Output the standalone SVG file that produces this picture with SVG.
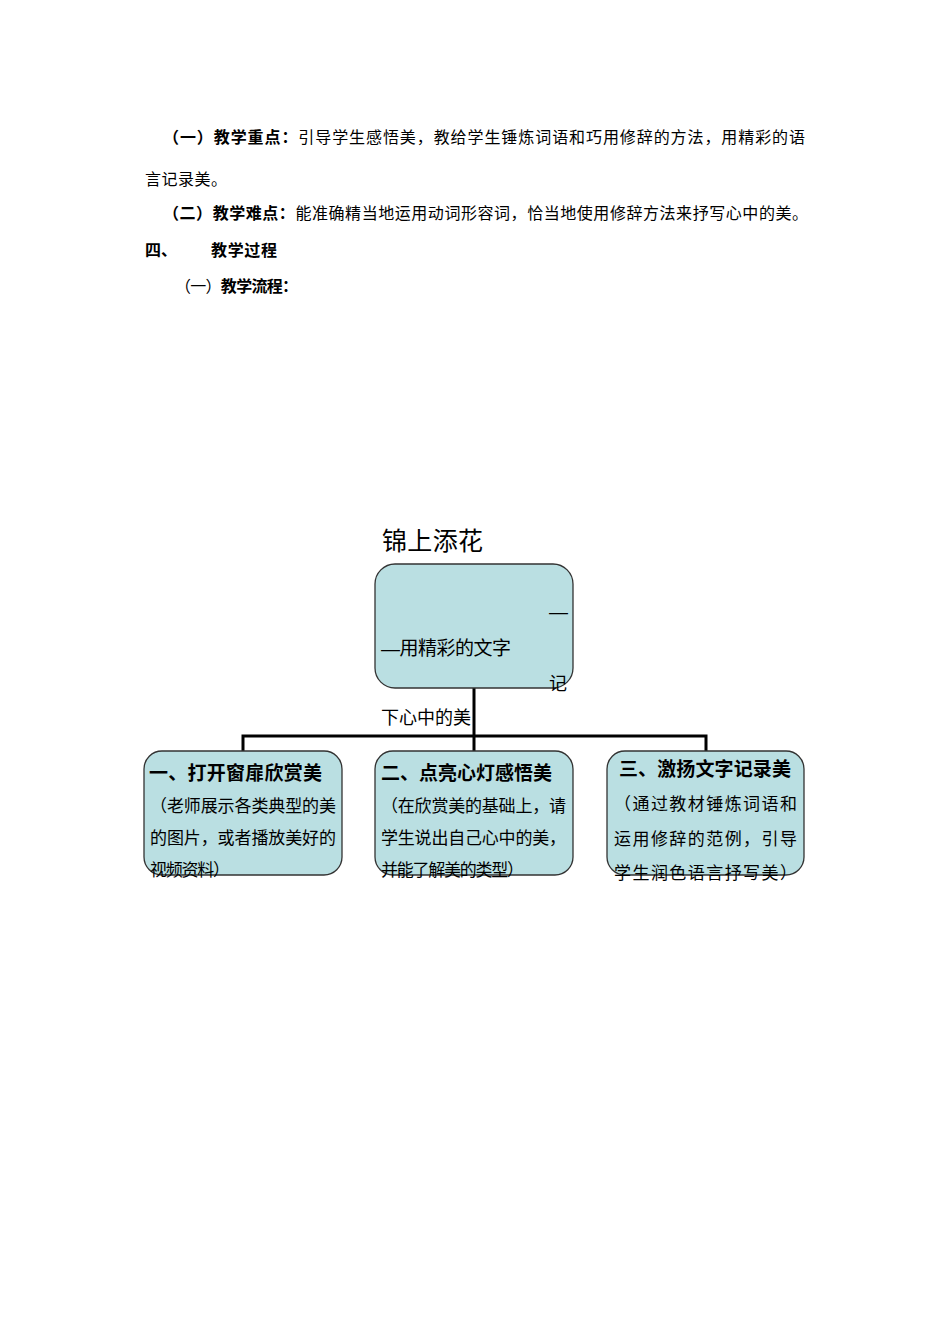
<svg xmlns="http://www.w3.org/2000/svg" width="950" height="1344" viewBox="0 0 950 1344">
<style>
.p{font-family:"Liberation Serif","Noto Sans CJK SC",serif;font-size:16px;fill:#000}
.b{font-weight:bold}
.t{font-family:"Liberation Sans","Noto Sans CJK SC",sans-serif;fill:#000}
.box{fill:#badfe2;stroke:#333;stroke-width:1.3}
.tt{font-family:"Liberation Sans","Noto Sans CJK SC",sans-serif;font-size:19px;font-weight:bold;fill:#000}
.bd{font-family:"Liberation Serif","Noto Sans CJK SC",serif;font-size:17px;fill:#000}
.c{fill:none;stroke:#000;stroke-width:3}
</style>
<rect width="950" height="1344" fill="#fff"/>
<g id="text">
<text class="p" x="163" y="143" textLength="642" lengthAdjust="spacing"><tspan class="b">（一）教学重点：</tspan>引导学生感悟美，教给学生锤炼词语和巧用修辞的方法，用精彩的语</text>
<text class="p" x="145" y="185" textLength="82" lengthAdjust="spacing">言记录美。</text>
<text class="p" x="163" y="219" textLength="645" lengthAdjust="spacing"><tspan class="b">（二）教学难点：</tspan>能准确精当地运用动词形容词，恰当地使用修辞方法来抒写心中的美。</text>
<text class="p b" x="145" y="256">四、</text>
<text class="p b" x="211" y="256" textLength="66" lengthAdjust="spacing">教学过程</text>
<text class="p" x="175" y="292" textLength="123" lengthAdjust="spacing">（一）<tspan class="b">教学流程：</tspan></text>
</g>
<g id="title"><text class="t" x="382" y="550" font-size="25" textLength="101" lengthAdjust="spacing">锦上添花</text></g>
<g id="connectors">
<path class="c" d="M474 688V751M243 751V736H706V751"/>
</g>
<g id="root">
<rect class="box" x="375" y="564" width="198" height="124" rx="20"/>
<text class="t" x="549" y="618" font-size="19">—</text>
<text class="t" x="381" y="655" font-size="19" textLength="130" lengthAdjust="spacing">—用精彩的文字</text>
<text class="t" x="549" y="690" font-size="18">记</text>
<text class="t" x="381" y="724" font-size="18" textLength="90" lengthAdjust="spacing">下心中的美</text>
</g>
<g id="node1">
<rect class="box" x="144" y="751" width="198" height="124" rx="18"/>
<text class="tt" x="149" y="780" textLength="173" lengthAdjust="spacing">一、打开窗扉欣赏美</text>
<text class="bd" x="150" y="812" textLength="186" lengthAdjust="spacing">（老师展示各类典型的美</text>
<text class="bd" x="150" y="844" textLength="186" lengthAdjust="spacing">的图片，或者播放美好的</text>
<text class="bd" x="150" y="876" textLength="80" lengthAdjust="spacing">视频资料）</text>
</g>
<g id="node2">
<rect class="box" x="375" y="751" width="198" height="124" rx="18"/>
<text class="tt" x="381" y="780" textLength="171" lengthAdjust="spacing">二、点亮心灯感悟美</text>
<text class="bd" x="381" y="812" textLength="185" lengthAdjust="spacing">（在欣赏美的基础上，请</text>
<text class="bd" x="381" y="844" textLength="185" lengthAdjust="spacing">学生说出自己心中的美，</text>
<text class="bd" x="381" y="876" textLength="143" lengthAdjust="spacing">并能了解美的类型）</text>
</g>
<g id="node3">
<rect class="box" x="607" y="751" width="197" height="124" rx="18"/>
<text class="tt" x="619" y="776" textLength="172" lengthAdjust="spacing">三、激扬文字记录美</text>
<text class="bd" x="614" y="810" textLength="183" lengthAdjust="spacing">（通过教材锤炼词语和</text>
<text class="bd" x="614" y="845" textLength="183" lengthAdjust="spacing">运用修辞的范例，引导</text>
<text class="bd" x="614" y="879" textLength="183" lengthAdjust="spacing">学生润色语言抒写美）</text>
</g>
</svg>
